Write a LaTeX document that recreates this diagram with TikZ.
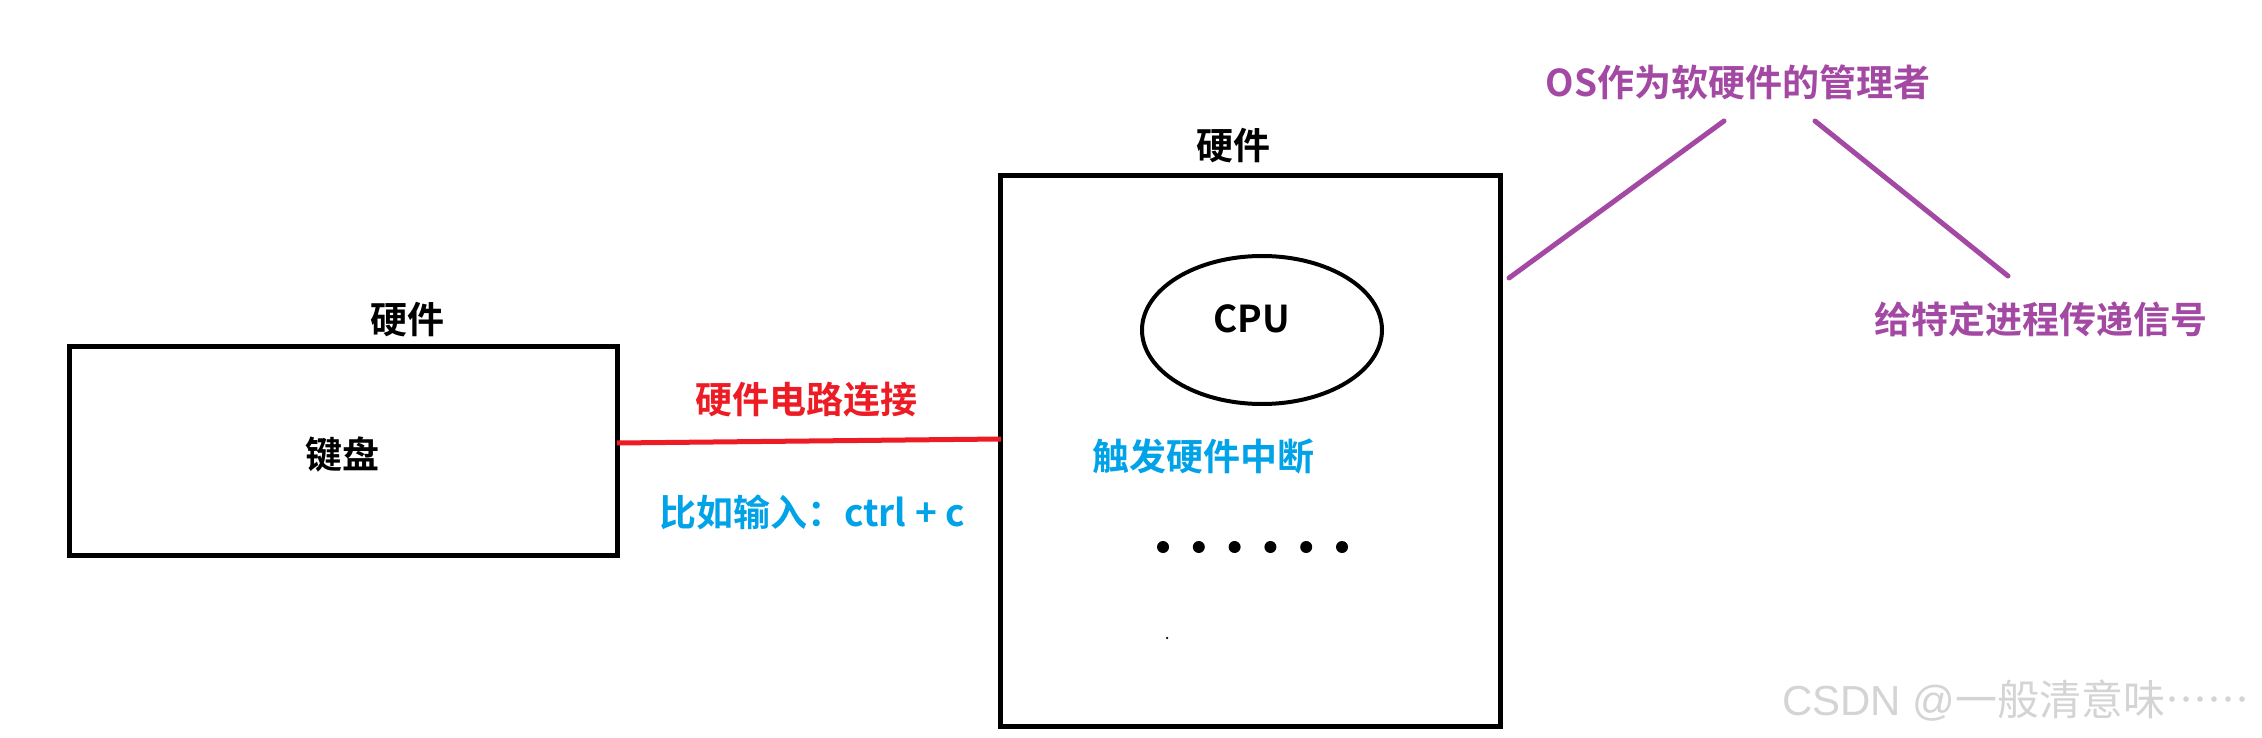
\documentclass[tikz,border=0pt]{standalone}
\usepackage{fontspec}
\usetikzlibrary{shapes.geometric}
\newfontfamily\cjk{Noto Sans CJK SC}[BoldFont={Noto Sans CJK SC Bold}]
\newfontfamily\cjkdots{Noto Sans CJK SC}[Script=CJK, Language=Chinese Simplified, CharacterWidth=Full]
\newfontfamily\wmlatin{Liberation Sans}
\definecolor{pred}{HTML}{ED1C24}
\definecolor{pblue}{HTML}{00A2E8}
\definecolor{ppurple}{HTML}{A349A4}
\definecolor{wmgray}{HTML}{D4D4D4}
\tikzset{
  lbl/.style={inner sep=0pt, font=\cjk\bfseries\fontsize{37}{40}\selectfont},
  box/.style={draw, line width=5pt, inner sep=0pt},
  wire/.style={line width=5pt},
  dotmark/.style={circle, fill, inner sep=0pt, minimum size=12pt}
}
\begin{document}
\begin{tikzpicture}[x=1pt,y=-1pt]
\useasboundingbox (0,0) rectangle (2262,738);
% left hardware box
\node[box, minimum width=548pt, minimum height=209pt] (kb) at (343,450.5) {};
\node[lbl] (kbtitle) at (407,320) {硬件};
\node[lbl] (kbtext) at (342,454) {键盘};
% right hardware box
\node[box, minimum width=500pt, minimum height=550pt] (hw) at (1250,451) {};
\node[lbl] (hwtitle) at (1233,146) {硬件};
\node[draw, ellipse, line width=4pt, minimum width=240pt, minimum height=148pt, inner sep=0pt] (cpu) at (1262,330) {};
\node[lbl] (cputext) at (1252,319) {CPU};
\node[lbl, text=pblue] (irq) at (1203,456) {触发硬件中断};
\foreach \i in {0,...,5}{
  \node[dotmark] (d\i) at (1163+35.8*\i,547) {};
}
\node[circle, fill, inner sep=0pt, minimum size=2.5pt] (tiny) at (1167,638) {};
% red connection
\coordinate (r1) at (617,443);
\coordinate (r2) at (1001,439);
\draw[wire, pred] (r1) -- (r2);
\node[lbl, text=pred] (wiretext) at (806,400) {硬件电路连接};
\node[lbl, text=pblue] (ctrlc) at (812,512) {比如输入：ctrl + c};
% purple
\node[lbl, text=ppurple] (os) at (1738,82) {OS作为软硬件的管理者};
\node[lbl, text=ppurple] (sig) at (2041,319) {给特定进程传递信号};
\coordinate (p1a) at (1509,278);
\coordinate (p1b) at (1724,121);
\coordinate (p2a) at (1815,121);
\coordinate (p2b) at (2008,276);
\draw[wire, ppurple, line cap=round] (p1a) -- (p1b);
\draw[wire, ppurple, line cap=round] (p2a) -- (p2b);
% watermark
\node[inner sep=0pt, anchor=base west, text=wmgray, font=\cjk\fontsize{42}{44}\selectfont] (wm) at (1782,715) {{\wmlatin CSDN @}一般清意味{\cjkdots ……}};
\end{tikzpicture}
\end{document}
